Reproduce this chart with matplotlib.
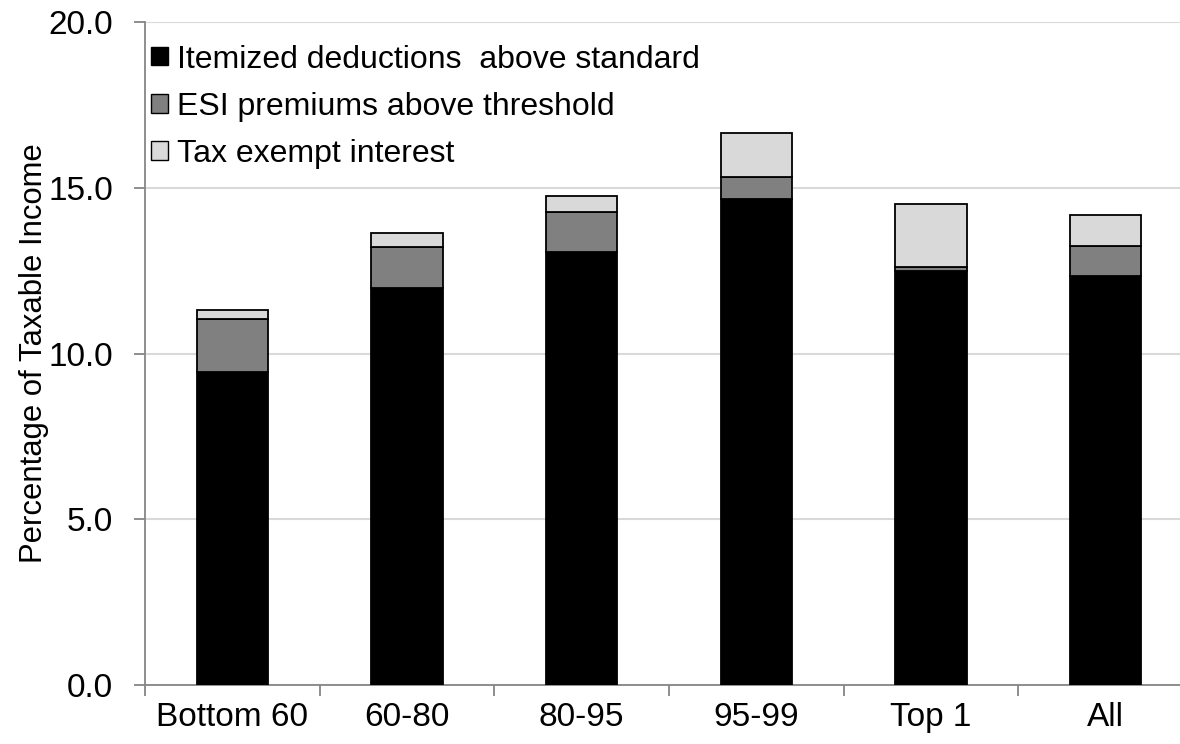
import matplotlib
matplotlib.use("Agg")
import matplotlib.pyplot as plt
import numpy as np
from matplotlib.patches import Patch

plt.rcParams['font.family'] = ['Liberation Sans', 'DejaVu Sans']

categories = ["Bottom 60", "60-80", "80-95", "95-99", "Top 1", "All"]
itemized = [9.44, 11.97, 13.05, 14.66, 12.49, 12.33]
esi = [1.59, 1.25, 1.23, 0.65, 0.11, 0.90]
tax_exempt = [0.27, 0.43, 0.48, 1.35, 1.91, 0.95]
series_labels = ["Itemized deductions  above standard",
                 "ESI premiums above threshold",
                 "Tax exempt interest"]
colors = ["#000000", "#808080", "#d9d9d9"]

FS = 24

fig = plt.figure(figsize=(11.8, 7.44), dpi=100)
ax = fig.add_axes([145/1180, 1-685/744, (1193-145)/1180, (685-22)/744])

x = np.arange(len(categories))
w = 0.41
bottom = np.zeros(len(categories))
for vals, c in zip([itemized, esi, tax_exempt], colors):
    ax.bar(x, vals, w, bottom=bottom, color=c, edgecolor="black",
           linewidth=1.3, zorder=3)
    bottom += np.array(vals)

ax.set_xlim(-0.5, len(categories) - 0.5)
ax.set_ylim(0, 20)
ax.set_yticks(np.arange(0, 20.1, 5))
ax.set_yticklabels([f"{v:.1f}" for v in np.arange(0, 20.1, 5)])
ax.yaxis.grid(True, color="#d9d9d9", linewidth=1.5, zorder=0)
ax.set_axisbelow(True)

ax.set_xticks(x)
ax.set_xticklabels(categories)
ax.set_xticks(np.arange(-0.5, len(categories)), minor=True)
ax.tick_params(axis="x", which="major", length=0, pad=12, labelsize=FS)
ax.tick_params(axis="x", which="minor", length=8, width=1.3, color="#868686",
               direction="out")
ax.tick_params(axis="y", length=8, width=1.3, color="#868686", pad=15,
               labelsize=FS)

for s in ["top", "right"]:
    ax.spines[s].set_visible(False)
for s in ["left", "bottom"]:
    ax.spines[s].set_color("#868686")
    ax.spines[s].set_linewidth(1.3)

ax.set_ylabel("Percentage of Taxable Income", fontsize=22.3)
ax.yaxis.set_label_coords(-0.092, 0.5)

handles = [Patch(facecolor=c, edgecolor="black", linewidth=1.0) for c in colors]
ax.legend(handles, series_labels, loc="upper left",
          bbox_to_anchor=(151/1180, 1-44.5/744), bbox_transform=fig.transFigure,
          frameon=False, fontsize=23, handlelength=0.52, handleheight=0.52,
          handletextpad=0.3, labelspacing=0.54, borderaxespad=0,
          borderpad=0)

fig.savefig("out.png", dpi=100)
